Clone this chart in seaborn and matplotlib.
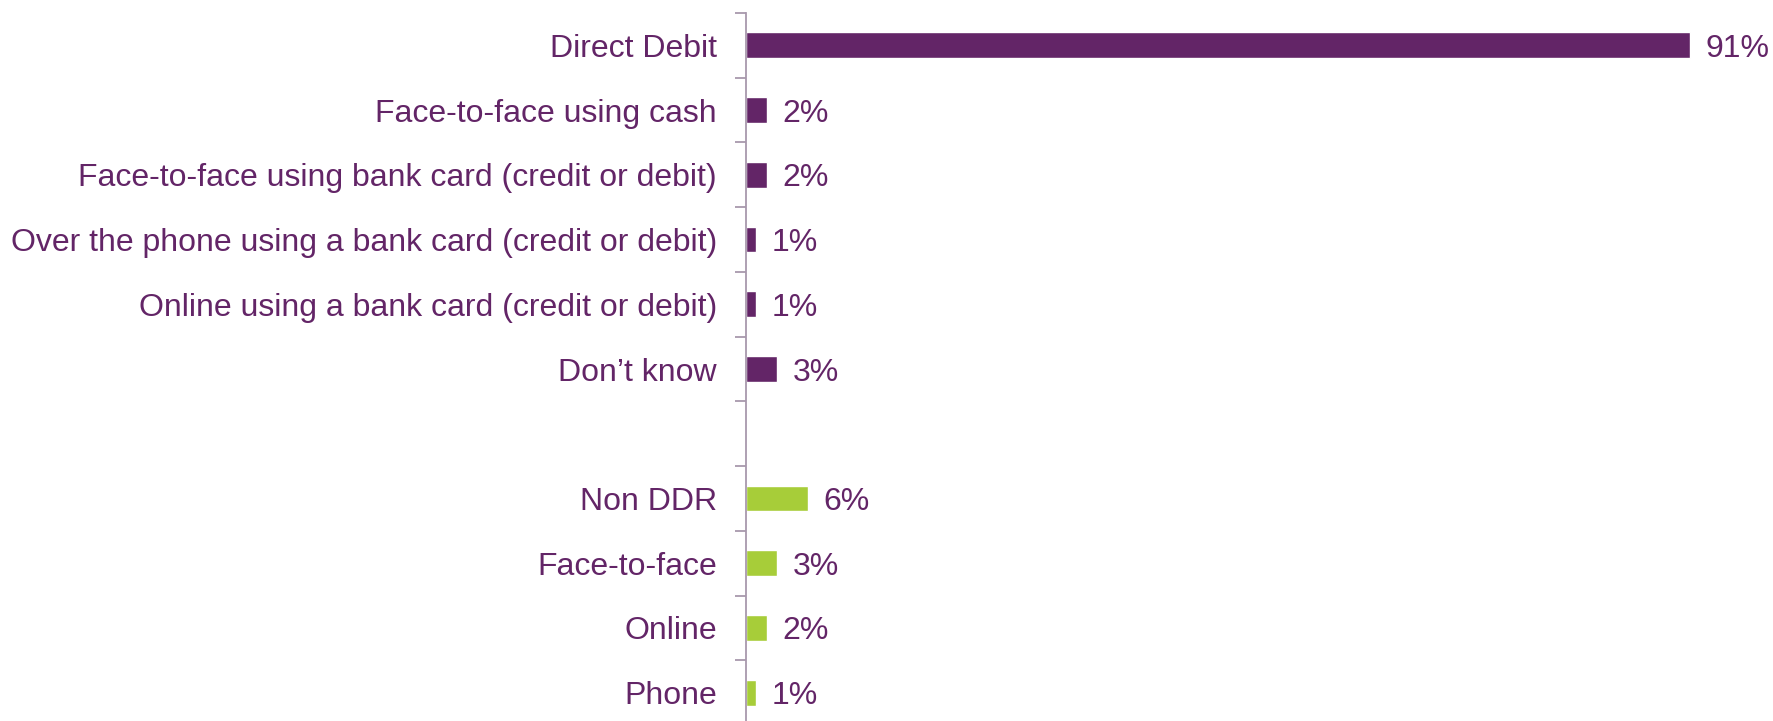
import matplotlib
matplotlib.use("Agg")
import matplotlib.pyplot as plt
import seaborn as sns
import pandas as pd
from matplotlib.ticker import FixedLocator

# Payment methods (top block) and channels (bottom block)
method_labels = [
    "Direct Debit",
    "Face-to-face using cash",
    "Face-to-face using bank card (credit or debit)",
    "Over the phone using a bank card (credit or debit)",
    "Online using a bank card (credit or debit)",
    "Don\u2019t know",
]
method_values = [91, 2, 2, 1, 1, 3]

channel_labels = ["Non DDR", "Face-to-face", "Online", "Phone"]
channel_values = [6, 3, 2, 1]

PURPLE = "#632567"
GREEN = "#A7CD39"
TEXT = "#632567"
AXIS = "#A898AC"

spacer = " "
order = method_labels + [spacer] + channel_labels
df = pd.DataFrame({
    "label": method_labels + channel_labels,
    "value": method_values + channel_values,
    "group": ["method"] * len(method_labels) + ["channel"] * len(channel_labels),
})
palette = {lab: PURPLE for lab in method_labels}
palette.update({lab: GREEN for lab in channel_labels})

sns.set_theme(style="white")
plt.rcParams["font.family"] = ["Liberation Sans", "DejaVu Sans"]

fig = plt.figure(figsize=(17.73, 7.21), dpi=100)
ax = fig.add_axes([746 / 1773, 1 - 725 / 721, 1 - 746 / 1773, (725 - 13) / 721])

sns.barplot(data=df, y="label", x="value", hue="label", order=order,
            palette=palette, width=0.4, saturation=1, legend=False, ax=ax)

n = len(order)
ax.set_ylim(n - 0.5, -0.5)
ax.set_xlim(0, 99)

# value labels
for cont in ax.containers:
    texts = ax.bar_label(cont, labels=[f"{v.get_width():.0f}%" for v in cont],
                         padding=11, fontsize=23, color=TEXT)
    for t in texts:
        t.set_verticalalignment("center_baseline")

# category labels at centres, tick marks at slot boundaries
ax.set_yticks(range(n))
ax.set_yticklabels(order, fontsize=23, color=TEXT)
ax.tick_params(axis="y", which="major", length=0, pad=21)
ax.yaxis.set_minor_locator(FixedLocator([i - 0.5 for i in range(n + 1)]))
ax.tick_params(axis="y", which="minor", length=8, width=1.3, color=AXIS, left=True)

ax.set_xticks([])
ax.set_xlabel("")
ax.set_ylabel("")
for side in ["top", "right", "bottom"]:
    ax.spines[side].set_visible(False)
ax.spines["left"].set_color(AXIS)
ax.spines["left"].set_linewidth(1.3)
ax.patch.set_alpha(0)

fig.savefig("out.png", dpi=100)
